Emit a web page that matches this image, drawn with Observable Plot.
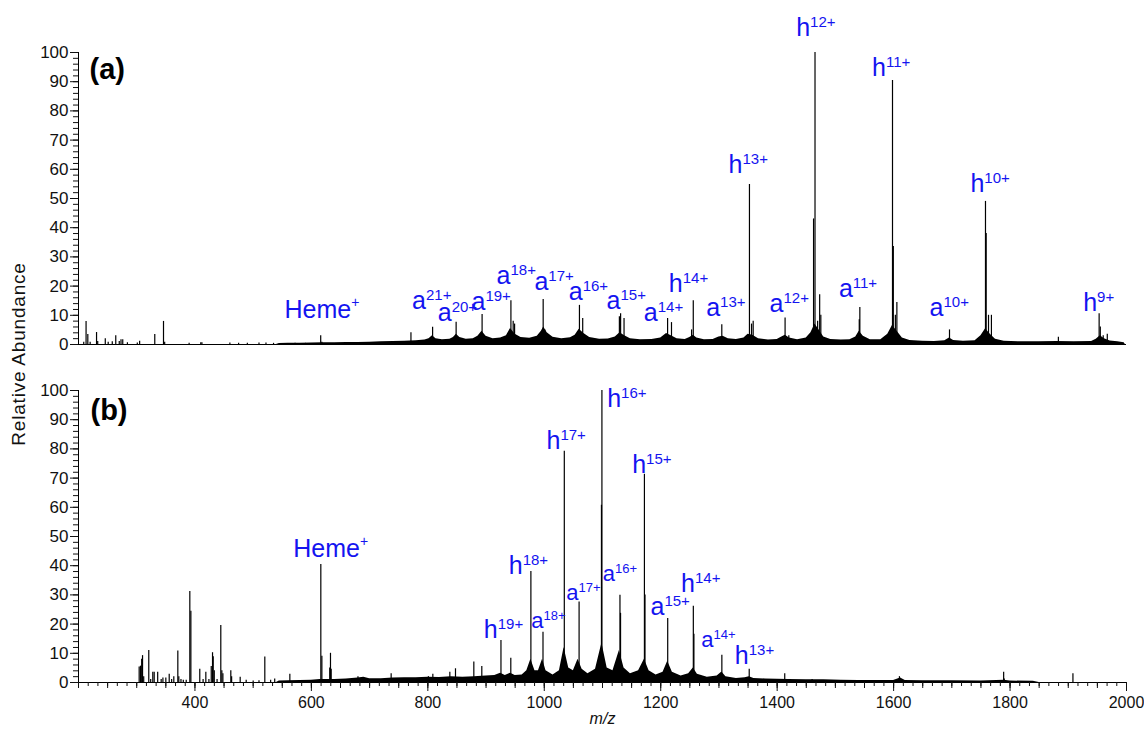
<!DOCTYPE html>
<html><head><meta charset="utf-8">
<script src="https://cdn.jsdelivr.net/npm/d3@7"></script>
<script src="https://cdn.jsdelivr.net/npm/@observablehq/plot@0.6"></script>
<style>
body{margin:0;background:#fff;}
#wrap{position:relative;width:1144px;height:735px;overflow:hidden;font-family:"Liberation Sans",Arial,Helvetica,sans-serif;background:#fff;}
#wrap svg{position:absolute;left:0;overflow:visible;background:transparent;}
#ylab{position:absolute;left:19px;top:354px;transform:translate(-50%,-50%) rotate(-90deg);font-size:19px;letter-spacing:0.8px;white-space:nowrap;color:#111;}
</style></head><body><div id="wrap"><div id="ylab">Relative Abundance</div></div>
<script>
// ---- data (m/z, relative abundance %) ----
const peaksA = [
[209,0.8],[213,7.9],[216,3.4],[220,0.8],[231,4.1],[233,1.0],[246,2.0],[251,0.8],[258,0.9],[264,3.0],[270,1.0],[273,1.6],[276,1.6],[284,0.6],[301,0.5],[305,1.1],[331,3.4],[346,7.9],[348,0.8],[390,0.4],[410,0.6],[412,0.6],[460,0.5],[475,0.4],[490,0.4],[510,0.5],[522,0.5],[535,0.4],[572,0.4],[590,0.4],[616,3.0],[618,0.8],
[771,4.0],[808.2,5.9],[848.6,7.6],[893.2,10.3],[942.7,15.0],[946.6,8.0],[949,7.0],[998.1,15.4],[1001,5.0],[1060.4,13.4],[1066,8.9],[1129,9.5],[1131.1,10.5],[1137,8.9],[1211.8,8.9],[1218.5,7.5],[1253,5.0],[1255.9,15.0],[1304.9,6.8],[1352.4,54.8],[1356,7.0],[1358.8,8.0],[1413.6,9.1],[1420,3.0],[1462.5,43],[1465,100],[1469.5,8],[1473,17],[1475,10],[1541,8.5],[1542,12.7],[1598.1,90.4],[1599.5,33.6],[1603,10],[1605.6,14.4],[1696,5],[1757.8,49],[1759,38],[1763,10],[1768,10],[1883,2.5],[1953,10.5],[1955,6],[1960,3],[1967,3.5]
];
const noiseA = [
[540,0],[545,0.3],[560,0.4],[580,0.4],[600,0.5],[620,0.6],[640,0.6],[660,0.7],[680,0.7],[700,0.8],[720,0.9],[740,1.0],[760,1.1],[780,1.3],[795,1.5],[802,2.0],[808,3.0],[814,2.0],[825,1.6],[838,1.8],[844,2.4],[849,3.5],[855,2.4],[866,1.8],[878,2.0],[886,2.8],[893,4.5],[900,2.8],[912,2.0],[925,2.2],[935,3.0],[942,5.5],[950,3.5],[960,2.4],[975,2.1],[988,2.8],[995,4.5],[999,6.0],[1005,4.0],[1015,2.5],[1030,2.0],[1045,2.3],[1053,3.2],[1060,5.2],[1068,3.8],[1078,2.4],[1095,1.8],[1110,1.9],[1122,2.6],[1130,4.0],[1138,3.0],[1148,2.0],[1165,1.6],[1185,1.7],[1200,2.2],[1210,3.8],[1218,3.0],[1228,2.0],[1242,1.7],[1250,2.4],[1256,3.2],[1262,2.2],[1275,1.6],[1290,1.7],[1300,2.6],[1307,2.8],[1316,2.0],[1330,1.7],[1343,2.2],[1350,3.5],[1358,3.2],[1368,2.0],[1385,1.5],[1400,1.7],[1408,2.6],[1414,3.2],[1421,2.2],[1435,1.6],[1450,2.2],[1458,4.0],[1465,7.0],[1472,5.0],[1480,2.6],[1492,1.7],[1510,1.5],[1525,1.6],[1535,2.6],[1541,4.5],[1548,2.8],[1560,1.6],[1578,1.6],[1590,3.5],[1598,6.5],[1606,4.5],[1615,2.2],[1628,1.4],[1650,1.1],[1670,1.0],[1688,1.3],[1696,2.2],[1703,1.4],[1720,1.1],[1740,1.3],[1750,3.0],[1758,5.4],[1766,3.5],[1775,1.8],[1790,1.1],[1820,0.9],[1850,0.9],[1880,1.0],[1910,0.9],[1940,1.0],[1948,1.8],[1955,3.0],[1962,2.0],[1972,1.2],[1985,0.9],[1996,0.6],[1998,0]
];
const labelsA = [
{base:"Heme",sup:"+",mz:553.8,y:9.2},
{base:"a",sup:"21+",mz:773,y:12.2},
{base:"a",sup:"20+",mz:817,y:8.0},
{base:"a",sup:"19+",mz:875,y:11.9},
{base:"a",sup:"18+",mz:918,y:20.8},
{base:"a",sup:"17+",mz:983,y:18.5},
{base:"a",sup:"16+",mz:1042,y:15.4},
{base:"a",sup:"15+",mz:1107,y:12},
{base:"a",sup:"14+",mz:1171,y:8},
{base:"h",sup:"14+",mz:1214,y:17.9},
{base:"a",sup:"13+",mz:1278,y:9.7},
{base:"h",sup:"13+",mz:1316.5,y:58.6},
{base:"a",sup:"12+",mz:1387,y:11.1},
{base:"h",sup:"12+",mz:1432.7,y:105.5},
{base:"a",sup:"11+",mz:1506,y:16.2},
{base:"h",sup:"11+",mz:1563,y:92.1},
{base:"a",sup:"10+",mz:1661.7,y:9.9},
{base:"h",sup:"10+",mz:1732,y:52.2},
{base:"h",sup:"9+",mz:1925.6,y:11.6}
];
const peaksB = [
[304.2,5.3],[306.5,5.6],[308.5,8.0],[310,9.2],[312,2.0],[320.7,11.0],[324,1.0],[327.6,3.5],[330,3.5],[336,3.5],[342,1.0],[345,1.5],[350,1.5],[355.8,2.8],[360,1.0],[363.7,2.0],[370.6,10.8],[372.3,2.0],[376,1],[380,0.8],[385,0.8],[391.2,31.2],[393,24.4],[408.3,4.5],[414,1.0],[418.7,3.5],[424,1.0],[428,5.5],[430.2,10.2],[431.4,8.8],[433.2,4.0],[438,1.0],[444.4,19.5],[446.2,4.0],[448,3.0],[461.6,4.0],[463,2.0],[477.7,1.8],[488,0.8],[500,0.5],[510,0.6],[520,8.7],[530,0.8],[537,1.2],[563,2.8],[616.2,40.4],[618,9.0],[631.5,5.0],[632.8,10.0],[634,4.5],
[680,2],[737,3],[801,2],[808.6,2.8],[837.8,3.5],[847.5,4.7],[879,7.0],[892.7,5.5],[925.6,14.4],[942.5,8.3],[977,38],[997.8,17.2],[1034.4,79.2],[1059.8,27.6],[1098.2,60.7],[1099,100],[1130,29.9],[1131,23.7],[1172,71.3],[1173,30],[1212,21.9],[1256,26.1],[1257,16.5],[1305,9.3],[1352,4.5],[1413,3],[1460,1.0],[1610,2.0],[1789,3.5],[1790,1.2],[1908,3.0]
];
const noiseB = [
[540,0],[545,0.5],[560,0.6],[580,0.7],[600,0.8],[615,1.0],[625,1.0],[640,1.0],[660,1.2],[680,1.5],[690,1.8],[700,1.3],[720,1.3],[740,1.5],[760,1.6],[780,1.6],[800,1.8],[820,1.7],[840,2.0],[860,1.8],[880,2.0],[900,2.2],[915,2.4],[925,3.2],[933,2.4],[942,3.2],[950,2.4],[962,2.6],[970,4.0],[977,8.0],[984,4.0],[990,4.0],[997,8.0],[1003,4.0],[1015,2.6],[1026,4.0],[1034,12.0],[1042,5.0],[1050,4.0],[1058,8.0],[1065,4.5],[1075,3.0],[1088,4.5],[1099,13.5],[1108,5.0],[1118,4.0],[1129,11.0],[1137,5.0],[1148,3.0],[1162,4.0],[1172,8.0],[1180,4.0],[1192,2.6],[1204,3.5],[1212,7.3],[1220,3.5],[1235,2.2],[1248,3.0],[1256,5.0],[1263,2.8],[1280,1.8],[1297,2.2],[1305,3.6],[1312,2.0],[1330,1.4],[1345,1.6],[1352,2.0],[1360,1.4],[1380,1.2],[1400,1.1],[1420,1.0],[1450,0.9],[1480,0.9],[1510,0.8],[1540,0.7],[1570,0.7],[1600,0.7],[1612,1.5],[1620,0.7],[1650,0.6],[1700,0.6],[1750,0.5],[1790,0.8],[1800,0.5],[1840,0.4],[1850,0]
];
const labelsB = [
{base:"Heme",sup:"+",mz:568.8,y:43.0},
{base:"h",sup:"19+",mz:896.2,y:15.1},
{base:"h",sup:"18+",mz:939,y:37.3},
{base:"h",sup:"17+",mz:1003.8,y:80.1},
{base:"h",sup:"16+",mz:1108,y:94.2},
{base:"h",sup:"15+",mz:1151,y:71.8},
{base:"a",sup:"15+",mz:1182.5,y:23.0},
{base:"h",sup:"14+",mz:1235,y:31.0},
{base:"h",sup:"13+",mz:1327.3,y:6.5}
];
const labelsBSmall = [
{base:"a",sup:"18+",mz:977.5,y:18.8},
{base:"a",sup:"17+",mz:1037.6,y:28.2},
{base:"a",sup:"16+",mz:1100.5,y:34.7},
{base:"a",sup:"14+",mz:1269.5,y:12.2}
];
const xLabelTicks = [400,600,800,1000,1200,1400,1600,1800,2000];
const yLabelTicks = [0,10,20,30,40,50,60,70,80,90,100];
const panelTags = ["(a)","(b)"];

// ---- rendering ----
const FONT = '"Liberation Sans", Arial, Helvetica, sans-serif';
const BLUE = "#1414f0";
const yMinor = d3.range(0, 101, 2);
const xMid = d3.range(200, 2001, 50);
const xMinor = d3.range(0, 109).map(i => 200 + i * 50 / 3);
const blank = () => "";
const lab = d => d.base + "^" + d.sup;

function common(noise, peaks) {
  return [
    Plot.areaY(noise, {x: d => d[0], y: d => d[1], fill: "#000", curve: "linear"}),
    Plot.ruleX(peaks, {x: d => d[0], y1: 0, y2: d => d[1], stroke: "#000", strokeWidth: 1.2}),
    Plot.ruleY([0], {stroke: "#000"}),
    Plot.ruleX([200], {stroke: "#000"}),
    Plot.axisY({ticks: yLabelTicks, tickSize: 8, tickPadding: 2, label: null, fontSize: 17}),
    Plot.axisY({ticks: yMinor, tickSize: 5, tickFormat: blank, label: null})
  ];
}

const svgA = Plot.plot({
  width: 1144, height: 354, marginLeft: 78, marginRight: 18, marginTop: 52, marginBottom: 10,
  style: {fontFamily: FONT, fontSize: "17px", background: "transparent", color: "#111"},
  x: {domain: [200, 2000], axis: null},
  y: {domain: [0, 100], axis: null},
  marks: [
    ...common(noiseA, peaksA),
    Plot.text([panelTags[0]], {frameAnchor: "top-left", dx: 11, dy: 26, lineAnchor: "bottom", textAnchor: "start", fontSize: 29, fontWeight: "bold", fill: "#000"}),
    Plot.text(labelsA, {x: "mz", y: "y", text: lab, textAnchor: "start", lineAnchor: "bottom", fill: BLUE, fontSize: 25})
  ]
});

const svgB = Plot.plot({
  width: 1144, height: 397, marginLeft: 78, marginRight: 18, marginTop: 52, marginBottom: 53,
  style: {fontFamily: FONT, fontSize: "17px", background: "transparent", color: "#111"},
  x: {domain: [200, 2000], axis: null},
  y: {domain: [0, 100], axis: null},
  marks: [
    ...common(noiseB, peaksB),
    Plot.axisX({ticks: xLabelTicks, tickSize: 9, tickPadding: 5, tickFormat: d => String(d), label: null, fontSize: 16}),
    Plot.axisX({ticks: xMid, tickSize: 6, tickFormat: blank, label: null}),
    Plot.axisX({ticks: xMinor, tickSize: 4, tickFormat: blank, label: null}),
    Plot.text(["m/z"], {frameAnchor: "bottom", dy: 36, lineAnchor: "middle", fontStyle: "italic", fontSize: 16, fill: "#111"}),
    Plot.text([panelTags[1]], {frameAnchor: "top-left", dx: 12, dy: 29, lineAnchor: "bottom", textAnchor: "start", fontSize: 29, fontWeight: "bold", fill: "#000"}),
    Plot.text(labelsB, {x: "mz", y: "y", text: lab, textAnchor: "start", lineAnchor: "bottom", fill: BLUE, fontSize: 25}),
    Plot.text(labelsBSmall, {x: "mz", y: "y", text: lab, textAnchor: "start", lineAnchor: "bottom", fill: BLUE, fontSize: 22})
  ]
});

function supify(svg) {
  d3.select(svg).selectAll("text").each(function () {
    const t = this.textContent;
    if (t.includes("^")) {
      const [b, s] = t.split("^");
      let fs = 25;
      let p = this;
      while (p && p.getAttribute) { const f = p.getAttribute("font-size"); if (f) { fs = parseFloat(f); break; } p = p.parentNode; }
      const plusOnly = s === "+";
      const sel = d3.select(this);
      sel.text(b);
      sel.append("tspan")
        .attr("font-size", Math.round(fs * (plusOnly ? 0.55 : 0.6)))
        .attr("dy", -fs * (plusOnly ? 0.42 : 0.36))
        .text(s);
    }
  });
}
supify(svgA); supify(svgB);
svgA.style.top = "0px";
svgB.style.top = "338px";
const wrap = document.getElementById("wrap");
wrap.appendChild(svgA);
wrap.appendChild(svgB);
</script></body></html>
